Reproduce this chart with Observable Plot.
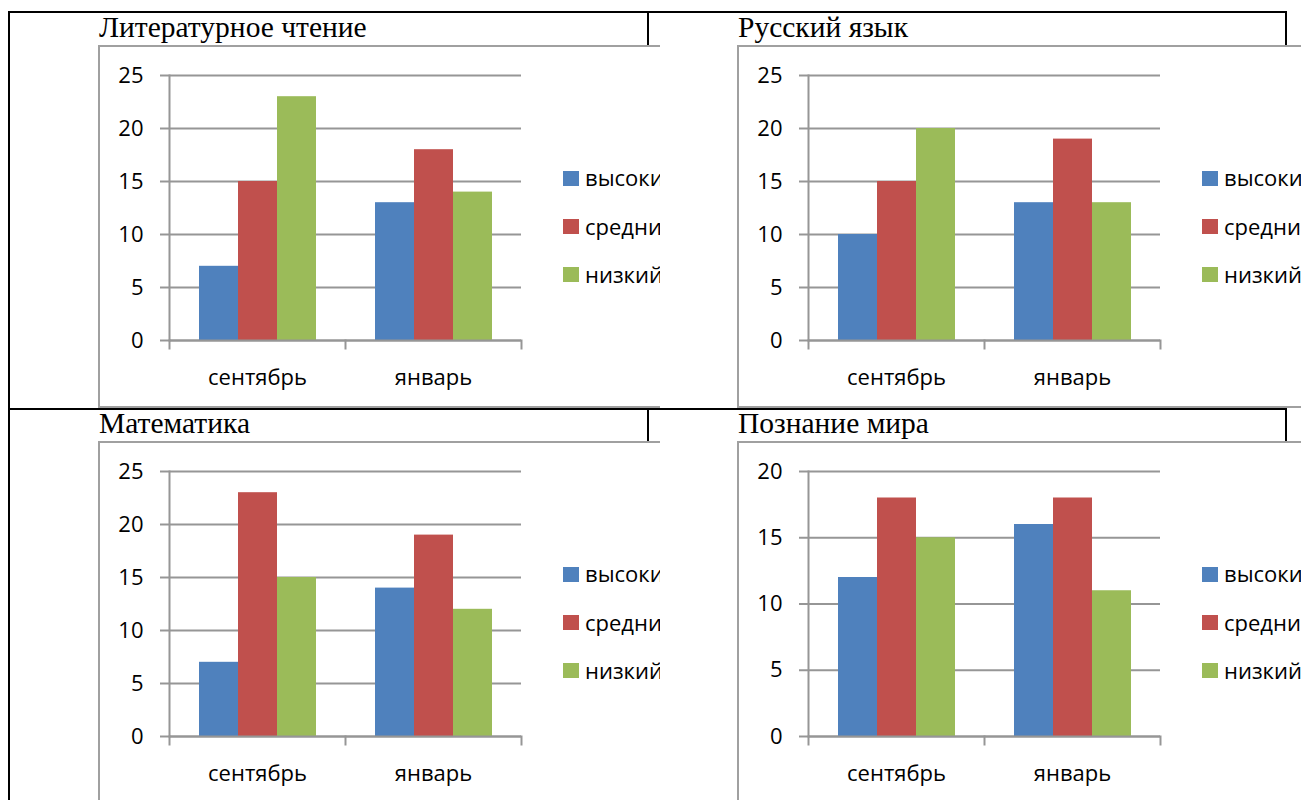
<!DOCTYPE html>
<html><head><meta charset="utf-8">
<script src="https://cdn.jsdelivr.net/npm/d3@7"></script>
<script src="https://cdn.jsdelivr.net/npm/@observablehq/plot@0.6"></script>
<style>
html,body{margin:0;padding:0;background:#fff;overflow:hidden;width:1301px;height:800px}
#root{position:relative;width:1301px;height:800px;overflow:hidden}
.line{position:absolute;background:#000}
.frame{position:absolute;background:#fff;border-top:2px solid #a0a0a0;border-left:2px solid #a0a0a0;border-bottom:2px solid #a0a0a0;overflow:hidden;box-sizing:border-box}
.title{position:absolute;font-family:"Liberation Serif","Times New Roman",serif;font-size:29.5px;line-height:29.5px;white-space:nowrap;color:#000}
.leg{position:absolute;font-family:"Open Sans",sans-serif;font-size:22px;line-height:22px;white-space:nowrap;color:#000}
.sw{position:absolute;width:16px;height:15px}
.plotbox{position:absolute}
</style>
</head><body><div id="root"></div>
<script>
const months = ["сентябрь", "январь"];
const levels = ["высокий", "средний", "низкий"];
const colors = ["#4f81bd", "#c0504d", "#9bbb59"];
const titles = ["Литературное чтение", "Русский язык", "Математика", "Познание мира"];
const litSep = [7, 15, 23], litJan = [13, 18, 14];
const rusSep = [10, 15, 20], rusJan = [13, 19, 13];
const mathSep = [7, 23, 15], mathJan = [14, 19, 12];
const worldSep = [12, 18, 15], worldJan = [16, 18, 11];
const ticks25 = [0, 5, 10, 15, 20, 25];
const ticks20 = [0, 5, 10, 15, 20];

const GRID = "#969696";
const root = document.getElementById("root");

function el(cls, css, parent, text) {
  const d = document.createElement("div");
  d.className = cls;
  Object.assign(d.style, css);
  if (text != null) d.textContent = text;
  (parent || root).appendChild(d);
  return d;
}

function chart(values, yTicks) {
  const data = [];
  months.forEach((m, i) => levels.forEach((l, j) => data.push({month: m, level: l, value: values[i][j]})));
  const mt = 29, mb = 60, h = 354, plotH = h - mt - mb;
  return Plot.plot({
    width: 432, height: h,
    marginLeft: 70, marginRight: 10, marginTop: mt, marginBottom: mb,
    style: {fontFamily: "'Open Sans', sans-serif", fontSize: "22px", color: "#000", background: "transparent", overflow: "visible"},
    fx: {domain: months, padding: 0, label: null},
    x: {domain: levels, paddingInner: 0, paddingOuter: 0.756, axis: null},
    y: {domain: [0, yTicks[yTicks.length - 1]], label: null},
    color: {domain: levels, range: colors},
    marks: [
      Plot.ruleY(yTicks, {stroke: GRID, strokeWidth: 2}),
      Plot.barY(data, {fx: "month", x: "level", y: "value", fill: "level"}),
      Plot.ruleY([0], {stroke: GRID, strokeWidth: 2}),
      Plot.frame({anchor: "left", facetAnchor: "left", stroke: GRID, strokeWidth: 2}),
      Plot.frame({anchor: "left", insetTop: plotH, insetBottom: -8, stroke: GRID, strokeWidth: 2}),
      Plot.frame({anchor: "right", facetAnchor: "right", insetTop: plotH, insetBottom: -8, stroke: GRID, strokeWidth: 2}),
      Plot.axisY(yTicks, {tickSize: 9, tickPadding: 17, fontSize: 22, stroke: GRID, strokeWidth: 2, label: null}),
      Plot.axisFx({anchor: "bottom", tickSize: 0, tickPadding: 29, fontSize: 22, label: null})
    ]
  });
}

// table lines
el("line", {left: "8px", top: "11px", width: "1279px", height: "2px"});
el("line", {left: "8px", top: "11px", width: "2px", height: "789px"});
el("line", {left: "647px", top: "11px", width: "2px", height: "35px"});
el("line", {left: "1285px", top: "11px", width: "2px", height: "35px"});
el("line", {left: "647px", top: "408px", width: "2px", height: "34px"});
el("line", {left: "1285px", top: "408px", width: "2px", height: "34px"});

const panels = [
  {vals: [litSep, litJan], ticks: ticks25, L: 98, T: 45, W: 562, H: 363},
  {vals: [rusSep, rusJan], ticks: ticks25, L: 737, T: 45, W: 600, H: 363},
  {vals: [mathSep, mathJan], ticks: ticks25, L: 98, T: 441, W: 562, H: 400},
  {vals: [worldSep, worldJan], ticks: ticks20, L: 737, T: 441, W: 600, H: 400}
];

panels.forEach((p, k) => {
  const f = el("frame", {left: p.L + "px", top: p.T + "px", width: p.W + "px", height: p.H + "px"});
  const ox = p.L + 2, oy = p.T + 2;
  const box = el("plotbox", {left: (p.L + 1 - ox) + "px", top: (p.T + 1 - oy) + "px"}, f);
  box.appendChild(chart(p.vals, p.ticks));
  levels.forEach((l, j) => {
    el("sw", {left: (p.L + 465 - ox) + "px", top: (p.T + 126 + j * 48 - oy) + "px", background: colors[j]}, f);
    el("leg", {left: (p.L + 487 - ox) + "px", top: (p.T + 121 + j * 48.5 - oy) + "px"}, f, l);
  });
  el("title", {left: (p.L + 1) + "px", top: (p.T - 32.5) + "px"}, root, titles[k]);
});

el("line", {left: "8px", top: "408px", width: "1279px", height: "2px"});
</script>
</body></html>
